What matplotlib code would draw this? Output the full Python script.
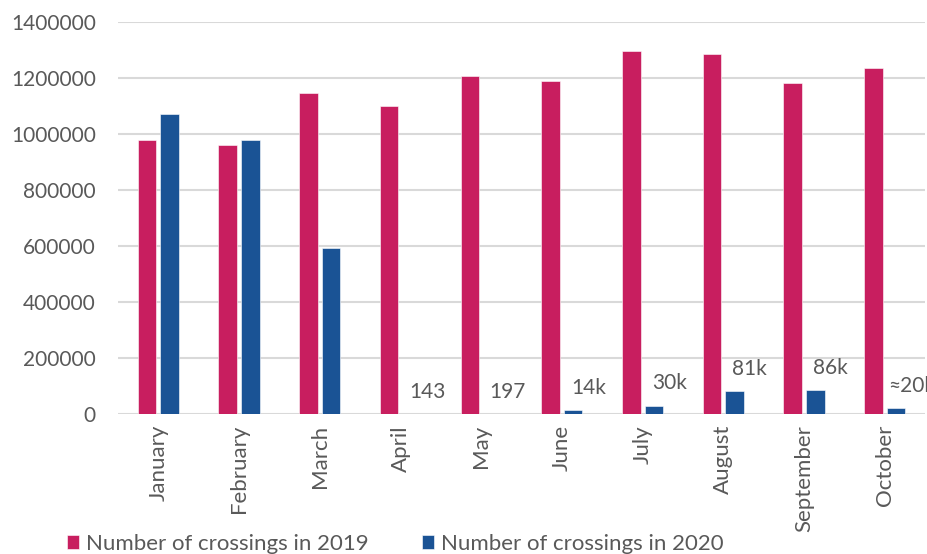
import matplotlib.pyplot as plt
import numpy as np

plt.rcParams['font.family'] = ['Lato', 'DejaVu Sans']

# data
months = ["January", "February", "March", "April", "May", "June",
          "July", "August", "September", "October"]
crossings_2019 = [980000, 960000, 1148000, 1100000, 1207000, 1190000,
                  1295000, 1287000, 1183000, 1237000]
crossings_2020 = [1070000, 980000, 592000, 143, 197, 14000,
                  30000, 81000, 86000, 20000]
labels_2020 = ["", "", "", "143", "197", "14k", "30k", "81k", "86k", "≈20k"]
yticks = [0, 200000, 400000, 600000, 800000, 1000000, 1200000, 1400000]

pink = "#C81E5F"
blue = "#1A5395"
grey = "#595959"

fig = plt.figure(figsize=(9.28, 5.54), dpi=100)
ax = fig.add_axes([118 / 928, 1 - 414 / 554, 807 / 928, 392 / 554])

x = np.arange(len(months))
w = 0.23
ax.bar(x - 0.14, crossings_2019, w, color=pink, edgecolor="white",
       linewidth=0.4, label="Number of crossings in 2019", zorder=3)
bars = ax.bar(x + 0.14, crossings_2020, w, color=blue, edgecolor="white",
              linewidth=0.4, label="Number of crossings in 2020", zorder=3)

# value labels above the 2020 bars
for rect, txt in zip(bars, labels_2020):
    if txt:
        ax.annotate(txt, (rect.get_x() + rect.get_width() / 2, rect.get_height()),
                    xytext=(11, 16), textcoords="offset points",
                    ha="center", va="center", fontsize=15, color=grey,
                    annotation_clip=False)

ax.set_xlim(-0.5, len(months) - 0.5)
ax.set_ylim(0, 1400000)
ax.set_yticks(yticks)
ax.set_yticklabels([str(v) for v in yticks])
ax.set_xticks(x)
ax.set_xticklabels(months, rotation=90)
ax.tick_params(axis="y", length=0, pad=16, labelsize=15, labelcolor=grey)
ax.tick_params(axis="x", length=0, pad=8, labelsize=16, labelcolor=grey)

ax.yaxis.grid(True, color="#D9D9D9", linewidth=1.5, zorder=0)
for s in ax.spines.values():
    s.set_visible(False)

fig.legend(loc="lower left", bbox_to_anchor=(58 / 928, -0.016), ncol=2,
           frameon=False, fontsize=16, labelcolor=grey,
           handlelength=0.55, handleheight=0.55, handletextpad=0.3,
           columnspacing=2.4, borderaxespad=0)

fig.savefig("out.png", dpi=100)
